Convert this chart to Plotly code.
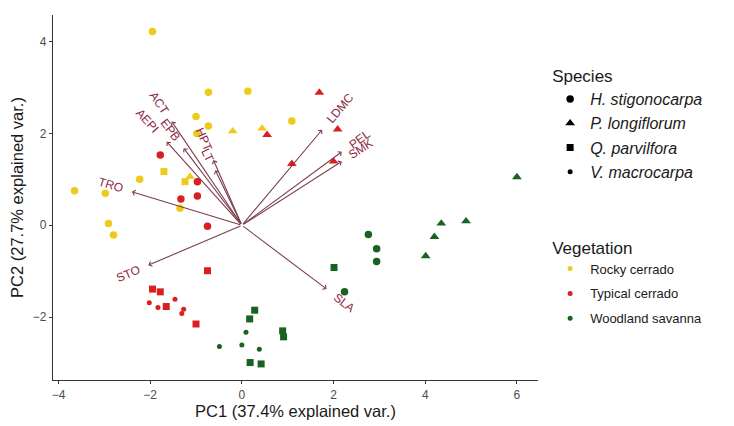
import math
import plotly.graph_objects as go

# ---------------- data ----------------
species = ["H. stigonocarpa", "P. longiflorum", "Q. parvilfora", "V. macrocarpa"]
vegetation = ["Rocky cerrado", "Typical cerrado", "Woodland savanna"]

# PCA scores: (PC1, PC2) grouped by vegetation and species
rocky_hs_x = [-1.95, -0.73, 0.13, -1.0, -0.73, -0.98, 1.09, -2.23, -3.65, -2.98, -2.91, -2.8, -1.35]
rocky_hs_y = [4.22, 2.9, 2.92, 2.37, 2.16, 2.0, 2.27, 1.0, 0.75, 0.7, 0.04, -0.21, 0.37]
rocky_pl_x = [-0.2, 0.44, -1.13]
rocky_pl_y = [2.05, 2.11, 1.06]
rocky_qp_x = [-1.7, -1.24]
rocky_qp_y = [1.17, 0.95]

typical_hs_x = [-1.78, -0.97, -0.97, -1.33, -0.75]
typical_hs_y = [1.53, 0.95, 0.64, 0.57, -0.02]
typical_pl_x = [1.69, 0.55, 2.09, 1.09, 2.0]
typical_pl_y = [2.89, 1.97, 2.09, 1.34, 1.39]
typical_qp_x = [-0.75, -1.95, -1.78, -1.65, -1.0]
typical_qp_y = [-0.99, -1.39, -1.45, -1.77, -2.15]
typical_vm_x = [-2.02, -1.83, -1.46, -1.27, -1.31]
typical_vm_y = [-1.69, -1.79, -1.61, -1.83, -1.92]

wood_hs_x = [2.76, 2.94, 2.94, 2.24]
wood_hs_y = [-0.2, -0.51, -0.79, -1.45]
wood_pl_x = [6.0, 4.89, 4.35, 4.2, 4.01]
wood_pl_y = [1.05, 0.09, 0.04, -0.25, -0.67]
wood_qp_x = [2.01, 0.28, 0.17, 0.89, 0.91, 0.18, 0.42]
wood_qp_y = [-0.92, -1.85, -2.04, -2.3, -2.43, -2.99, -3.02]
wood_vm_x = [0.09, -0.49, 0.0, 0.38]
wood_vm_y = [-2.33, -2.64, -2.61, -2.7]

# variable loadings (arrow tips)
var_names = ["ACT", "AEPI", "EPB", "HPT", "LT", "TRO", "STO", "SLA", "LDMC", "PEL", "SMK"]
var_x = [-1.53, -1.64, -1.27, -0.62, -0.58, -2.4, -2.04, 1.85, 1.75, 2.18, 2.18]
var_y = [2.26, 1.82, 1.68, 1.42, 1.2, 0.73, -0.87, -1.39, 2.08, 1.6, 1.39]

x_title = "PC1 (37.4% explained var.)"
y_title = "PC2 (27.7% explained var.)"

# ---------------- style ----------------
FONT = "Liberation Sans, Arial, sans-serif"
veg_colors = {"Rocky cerrado": "#F0CA1A", "Typical cerrado": "#D91F1F", "Woodland savanna": "#17631F"}
sp_symbol = {"H. stigonocarpa": "circle", "P. longiflorum": "triangle-up",
             "Q. parvilfora": "square", "V. macrocarpa": "circle"}
sp_size = {"H. stigonocarpa": 7.5, "P. longiflorum": 8.5, "Q. parvilfora": 7, "V. macrocarpa": 5}
ARROW_COL = "#7a3e4c"
LABEL_COL = "#8b2942"

groups = [
    ("Rocky cerrado", "H. stigonocarpa", rocky_hs_x, rocky_hs_y),
    ("Rocky cerrado", "P. longiflorum", rocky_pl_x, rocky_pl_y),
    ("Rocky cerrado", "Q. parvilfora", rocky_qp_x, rocky_qp_y),
    ("Typical cerrado", "H. stigonocarpa", typical_hs_x, typical_hs_y),
    ("Typical cerrado", "P. longiflorum", typical_pl_x, typical_pl_y),
    ("Typical cerrado", "Q. parvilfora", typical_qp_x, typical_qp_y),
    ("Typical cerrado", "V. macrocarpa", typical_vm_x, typical_vm_y),
    ("Woodland savanna", "H. stigonocarpa", wood_hs_x, wood_hs_y),
    ("Woodland savanna", "P. longiflorum", wood_pl_x, wood_pl_y),
    ("Woodland savanna", "Q. parvilfora", wood_qp_x, wood_qp_y),
    ("Woodland savanna", "V. macrocarpa", wood_vm_x, wood_vm_y),
]

fig = go.Figure()

for veg, sp, xs, ys in groups:
    fig.add_trace(go.Scatter(
        x=xs, y=ys, mode="markers", showlegend=False,
        marker=dict(color=veg_colors[veg], symbol=sp_symbol[sp], size=sp_size[sp],
                    line=dict(width=0)),
        hovertext=[f"{sp} – {veg}"] * len(xs),
    ))

# legend entries: species (legend 1)
for sp in species:
    fig.add_trace(go.Scatter(
        x=[None], y=[None], mode="markers", name=sp, legend="legend",
        legendgroup=sp,
        marker=dict(color="black", symbol=sp_symbol[sp], size=sp_size[sp]),
    ))
# legend entries: vegetation (legend 2)
for veg in vegetation:
    fig.add_trace(go.Scatter(
        x=[None], y=[None], mode="markers", name=veg, legend="legend2",
        legendgroup=veg,
        marker=dict(color=veg_colors[veg], symbol="circle", size=5),
    ))

# arrows and variable labels
annotations = []
LFS = 12
for name, vx, vy in zip(var_names, var_x, var_y):
    annotations.append(dict(
        x=vx, y=vy, ax=0, ay=0, xref="x", yref="y", axref="x", ayref="y",
        text="", showarrow=True, arrowhead=4, arrowsize=0.9, arrowwidth=1.1,
        arrowcolor=ARROW_COL, standoff=0,
    ))
    norm = math.hypot(vx, vy)
    ux, uy = vx / norm, vy / norm
    w = 0.68 * LFS * len(name)
    d = 0.75 * w + 4
    ang = math.degrees(math.atan(vy / vx))
    annotations.append(dict(
        x=vx, y=vy, xref="x", yref="y", text=name, showarrow=False,
        xshift=ux * d, yshift=uy * d, textangle=-ang,
        font=dict(family=FONT, size=LFS, color=LABEL_COL),
    ))

# the page body adds an 8px offset, so the figure is 8px smaller and margins shifted
fig.update_layout(
    width=726, height=418,
    margin=dict(l=45, r=196, t=7, b=46),
    paper_bgcolor="white", plot_bgcolor="white",
    font=dict(family=FONT, color="#1a1a1a"),
    annotations=annotations,
    xaxis=dict(
        range=[-4.12, 6.46], tickvals=[-4, -2, 0, 2, 4, 6], showgrid=False, zeroline=False,
        showline=True, linecolor="#333333", linewidth=1.2, automargin=False,
        ticks="outside", ticklen=3, tickcolor="#333333",
        tickfont=dict(family=FONT, size=12, color="#4d4d4d"),
        title=dict(text=x_title, font=dict(family=FONT, size=16.5, color="#1a1a1a"), standoff=4),
    ),
    yaxis=dict(
        range=[-3.37, 4.58], tickvals=[-2, 0, 2, 4], showgrid=False, zeroline=False,
        showline=True, linecolor="#333333", linewidth=1.2, automargin=False,
        ticks="outside", ticklen=3, tickcolor="#333333",
        tickfont=dict(family=FONT, size=12, color="#4d4d4d"),
        title=dict(text=y_title, font=dict(family=FONT, size=16.5, color="#1a1a1a"), standoff=6),
    ),
    legend=dict(
        x=1.025, y=0.877, xanchor="left", yanchor="top",
        title=dict(text="Species", font=dict(family=FONT, size=17, color="#1a1a1a", style="normal")),
        font=dict(family=FONT, size=16, color="#1a1a1a", style="italic"),
        tracegroupgap=0.5, bgcolor="rgba(0,0,0,0)",
    ),
    legend2=dict(
        x=1.025, y=0.407, xanchor="left", yanchor="top",
        title=dict(text="Vegetation", font=dict(family=FONT, size=17, color="#1a1a1a", style="normal")),
        font=dict(family=FONT, size=13, color="#1a1a1a"),
        tracegroupgap=5, bgcolor="rgba(0,0,0,0)",
    ),
)

fig.write_html("out.html")
